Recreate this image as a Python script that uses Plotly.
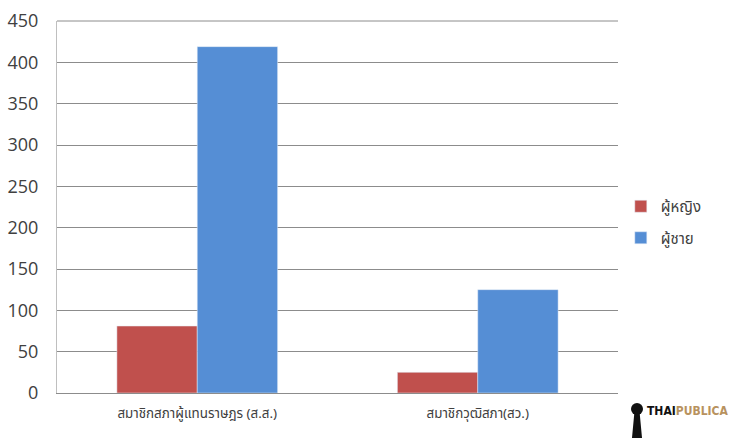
import plotly.graph_objects as go

categories = ["สมาชิกสภาผู้แทนราษฎร (ส.ส.)", "สมาชิกวุฒิสภา(สว.)"]
women = [81, 25]
men = [419, 125]
series_names = ["ผู้หญิง", "ผู้ชาย"]
y_ticks = [0, 50, 100, 150, 200, 250, 300, 350, 400, 450]

font_fam = "Noto Sans Thai, Noto Sans, Open Sans, sans-serif"

fig = go.Figure()
fig.add_trace(go.Bar(x=categories, y=women, name=series_names[0], marker_color="#c0504d",
                     legendgroup="a"))
fig.add_trace(go.Bar(x=categories, y=men, name=series_names[1], marker_color="#558ed5",
                     legendgroup="b"))

fig.update_layout(
    width=732, height=438,
    margin=dict(l=57, r=114, t=21, b=45, autoexpand=False),
    paper_bgcolor="white", plot_bgcolor="white",
    barmode="group", bargap=0.427, bargroupgap=0,
    font=dict(family=font_fam, color="#404040"),
    legend=dict(x=1.005, y=(393-222)/372, xanchor="left", yanchor="middle",
                font=dict(size=15, color="#404040", family=font_fam),
                tracegroupgap=9, bgcolor="rgba(0,0,0,0)"),
    showlegend=True,
)
fig.update_yaxes(range=[0, 450], tickvals=y_ticks, showgrid=True, gridcolor="#8c8c8c",
                 gridwidth=1, showline=True, linecolor="#bfbfbf", linewidth=1,
                 ticks="", tickfont=dict(size=18, color="#404040", family="Open Sans, sans-serif"),
                 zeroline=False, ticklabelstandoff=14, automargin=False)
fig.update_xaxes(showline=True, linecolor="#8c8c8c", linewidth=1, ticks="",
                 tickfont=dict(size=13.4, color="#404040", family=font_fam),
                 ticklabelstandoff=8, automargin=False)

# top gridline at 450
fig.add_shape(type="line", xref="paper", yref="paper", x0=0, x1=1, y0=1, y1=1,
              line=dict(color="#8c8c8c", width=1))

# logo
fig.add_annotation(xref="paper", yref="paper", x=(730-57)/561, y=(393-411)/372,
                   xanchor="right", yanchor="middle", showarrow=False,
                   text="<b><span style='color:#111'>THAI</span><span style='color:#b8925e'>PUBLICA</span></b>",
                   font=dict(size=12, family="DejaVu Sans Condensed, Liberation Sans Narrow, sans-serif"))
fig.add_shape(type="circle", xref="paper", yref="paper",
              x0=(631-57)/561, x1=(643-57)/561, y0=(393-415)/372, y1=(393-403)/372,
              fillcolor="#111", line_width=0)
fig.add_shape(type="path", xref="paper", yref="paper",
              path=f"M {(634.5-57)/561} {(393-411)/372} L {(639.5-57)/561} {(393-411)/372} L {(642-57)/561} {(393-438)/372} L {(632-57)/561} {(393-438)/372} Z",
              fillcolor="#111", line_width=0)

fig.write_html("out.html")
